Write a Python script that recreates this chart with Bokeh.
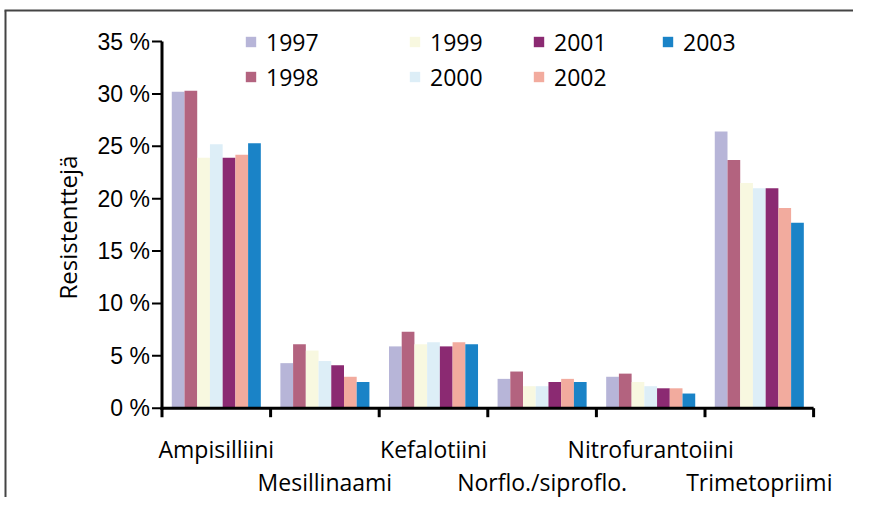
import math
from bokeh.plotting import figure
from bokeh.models import Legend, LegendItem, Range1d
from bokeh.core.properties import value
from bokeh.embed import file_html
from bokeh.resources import INLINE

# ---- data ----
categories = ["Ampisilliini", "Mesillinaami", "Kefalotiini",
              "Norflo./siproflo.", "Nitrofurantoiini", "Trimetopriimi"]
years = ["1997", "1998", "1999", "2000", "2001", "2002", "2003"]
colors = ["#b7b5d8", "#b3637f", "#f8f8e0", "#ddeef7", "#8b2a72", "#f2ab9e", "#1a83c7"]

v1997 = [30.2, 4.3, 5.9, 2.8, 3.0, 26.4]
v1998 = [30.3, 6.1, 7.3, 3.5, 3.3, 23.7]
v1999 = [23.9, 5.5, 6.1, 2.1, 2.5, 21.5]
v2000 = [25.2, 4.5, 6.3, 2.1, 2.1, 21.0]
v2001 = [23.9, 4.1, 5.9, 2.5, 1.9, 21.0]
v2002 = [24.2, 3.0, 6.3, 2.8, 1.9, 19.1]
v2003 = [25.3, 2.5, 6.1, 2.5, 1.4, 17.7]
series = [v1997, v1998, v1999, v2000, v2001, v2002, v2003]

y_ticks = [0, 5, 10, 15, 20, 25, 30, 35]
y_tick_labels = ["0 %", "5 %", "10 %", "15 %", "20 %", "25 %", "30 %", "35 %"]
y_title = "Resistenttejä"

# ---- layout (pixels on the canvas) ----
W, H = 853, 497
X0 = 161.5          # screen x of the value axis
PX_X = 108.6        # pixels per category
ZERO_Y = 407.7      # screen y of 0 %
PX_Y = 10.477       # pixels per 1 %


def px2x(px):
    return (px - X0) / PX_X


def px2y(py):
    return (ZERO_Y - py) / PX_Y


p = figure(width=W, height=H, output_backend="svg", toolbar_location=None,
           x_range=Range1d(px2x(0), px2x(W)), y_range=Range1d(px2y(H), px2y(0)),
           min_border=0)
p.outline_line_color = None
p.grid.visible = False
p.xaxis.visible = False
p.yaxis.visible = False
p.background_fill_color = "white"
p.border_fill_color = "white"

nb = len(categories)

# outer frame lines (top and left)
p.segment(x0=[px2x(5), px2x(4)], y0=[px2y(10), px2y(10)],
          x1=[px2x(5), px2x(W)], y1=[px2y(H), px2y(10)],
          line_color="#444444", line_width=2)

# bars
n = len(years)
margin = 0.09
bw = (1 - 2 * margin) / n
renderers = []
for j, vals in enumerate(series):
    xs = [i + margin + (j + 0.5) * bw for i in range(nb)]
    r = p.vbar(x=xs, top=vals, bottom=0, width=bw, fill_color=colors[j], line_color=None)
    renderers.append(r)

# value axis: line, ticks, labels, title
p.segment(x0=[0], y0=[px2y(ZERO_Y + 1.5)], x1=[0], y1=[y_ticks[-1]],
          line_color="black", line_width=3)
p.segment(x0=[0] * len(y_ticks), y0=y_ticks, x1=[px2x(X0 - 10)] * len(y_ticks), y1=y_ticks,
          line_color="black", line_width=2)
p.text(x=[px2x(X0 - 12)] * len(y_ticks), y=y_ticks, text=y_tick_labels,
       text_align="right", text_baseline="middle",
       text_font=value("Liberation Sans"), text_font_size="23px", text_color="black")
p.text(x=[px2x(66.5)], y=[px2y(227)], text=[y_title], angle=math.pi / 2,
       text_align="center", text_baseline="middle",
       text_font=value("Open Sans"), text_font_size="24px", text_color="black")

# category axis: baseline and boundary ticks
p.segment(x0=[px2x(X0 - 1.5)], y0=[0], x1=[nb], y1=[0], line_color="black", line_width=3)
bounds_x = list(range(nb + 1))
p.segment(x0=bounds_x, y0=[0] * len(bounds_x), x1=bounds_x,
          y1=[px2y(ZERO_Y + 9)] * len(bounds_x), line_color="black", line_width=3)

# category labels, staggered in two rows
lab_x = [i + 0.5 for i in range(nb)]
lab_y = [px2y(448.3) if i % 2 == 0 else px2y(481.5) for i in range(nb)]
p.text(x=lab_x, y=lab_y, text=categories, text_align="center",
       text_baseline="middle", text_font=value("Open Sans"),
       text_font_size="23px", text_color="black")

# legend: four columns of (at most) two rows
cols = [[0, 1], [2, 3], [4, 5], [6]]
col_x = [244, 408, 532, 661]
item_h = 34
for k, col in enumerate(cols):
    items = [LegendItem(label=years[j], renderers=[renderers[j]]) for j in col]
    bottom = H - (41.5 + 35 * (len(col) - 1) + item_h / 2)
    lg = Legend(items=items, location=(col_x[k], bottom), orientation="vertical",
                glyph_width=13, glyph_height=13, label_height=item_h,
                label_standoff=9, spacing=35 - item_h, padding=0, margin=0,
                border_line_color=None, background_fill_alpha=0,
                label_text_font="Open Sans", label_text_font_size="23px",
                label_text_color="black")
    p.add_layout(lg, "center")

open("out.html", "w").write(file_html(p, INLINE))
